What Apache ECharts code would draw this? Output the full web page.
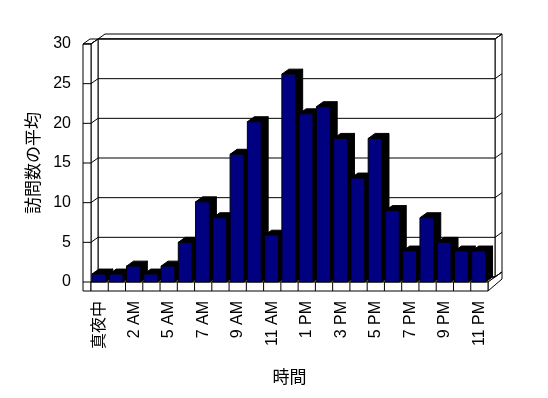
<!DOCTYPE html>
<html><head><meta charset="utf-8">
<script src="https://cdn.jsdelivr.net/npm/echarts@6/dist/echarts.min.js"></script>
<style>html,body{margin:0;padding:0;background:#fff}#c{width:548px;height:398px}</style>
</head><body><div id="c"></div>
<script>
const categories = ["真夜中","1 AM","2 AM","3 AM","5 AM","6 AM","7 AM","8 AM","9 AM","10 AM","11 AM","正午","1 PM","2 PM","3 PM","4 PM","5 PM","6 PM","7 PM","8 PM","9 PM","10 PM","11 PM"];
const visitAverages = [1, 1, 2, 1, 2, 5, 10.1, 8.1, 16.1, 20.2, 5.9, 26.2, 21.2, 22.1, 18.1, 13.1, 18.1, 9, 3.9, 8.1, 5, 3.9, 3.9];
const yTicks = [0, 5, 10, 15, 20, 25, 30];
const xTitle = "時間";
const yTitle = "訪問数の平均";

const DX = 7, DY = -5;      // depth offset of 3D effect (px)
const WALL = 8, FLOOR = 9;  // wall / floor thickness (px)
const LS = {stroke: '#000', lineWidth: 1};
const latin = 'Liberation Sans, Arial, Noto Sans CJK JP, sans-serif';
const cjk = 'Noto Sans CJK JP, sans-serif';

function poly(pts, fill) {
  return {type: 'polygon', shape: {points: pts}, style: Object.assign({fill: fill}, LS)};
}
function line(a, b) {
  return {type: 'line', shape: {x1: a[0], y1: a[1], x2: b[0], y2: b[1]}, style: LS};
}

function renderFrame(params, api) {
  const cs = params.coordSys;
  const x0 = cs.x, x1 = cs.x + cs.width, yT = cs.y, yB = cs.y + cs.height;
  const ch = [];
  // back wall slab
  ch.push(poly([[x0 + DX, yT + DY], [x0 + 2 * DX, yT + 2 * DY], [x1 + 2 * DX, yT + 2 * DY], [x1 + DX, yT + DY]], '#fff'));
  ch.push(poly([[x1 + DX, yT + DY], [x1 + 2 * DX, yT + 2 * DY], [x1 + 2 * DX, yB + 2 * DY], [x1 + DX, yB + DY]], '#fff'));
  ch.push(poly([[x0 + DX, yT + DY], [x1 + DX, yT + DY], [x1 + DX, yB + DY], [x0 + DX, yB + DY]], '#fff'));
  // left wall
  ch.push(poly([[x0 - WALL, yT], [x0, yT], [x0 + DX, yT + DY], [x0 - WALL + DX, yT + DY]], '#fff'));
  ch.push(poly([[x0, yT], [x0 + DX, yT + DY], [x0 + DX, yB + DY], [x0, yB]], '#fff'));
  ch.push(poly([[x0 - WALL, yT], [x0, yT], [x0, yB + FLOOR], [x0 - WALL, yB + FLOOR]], '#fff'));
  // floor
  ch.push(poly([[x0, yB], [x0 + DX, yB + DY], [x1 + DX, yB + DY], [x1, yB]], '#fff'));
  ch.push(poly([[x1, yB], [x1 + 2 * DX, yB + 2 * DY], [x1 + 2 * DX, yB + 2 * DY + FLOOR - 2], [x1, yB + FLOOR]], '#fff'));
  ch.push(poly([[x0, yB], [x1, yB], [x1, yB + FLOOR], [x0, yB + FLOOR]], '#fff'));
  // category ticks on floor front
  const bw = api.size([1, 0])[0];
  for (let i = 1; i < categories.length; i++) {
    const xb = api.coord([i, 0])[0] - bw / 2;
    ch.push(line([xb, yB], [xb, yB + FLOOR]));
  }
  return {type: 'group', children: ch};
}

function renderGrid(params, api) {
  const cs = params.coordSys;
  const x0 = cs.x, x1 = cs.x + cs.width;
  const y = api.coord([0, api.value(1)])[1];
  return {type: 'group', children: [
    line([x0 - WALL, y], [x0, y]),
    line([x0, y], [x0 + DX, y + DY]),
    line([x0 + DX, y + DY], [x1 + DX, y + DY]),
    line([x1 + DX, y + DY], [x1 + 2 * DX, y + 2 * DY])
  ]};
}

function renderBar(params, api) {
  const i = api.value(0), v = api.value(1);
  const top = api.coord([i, v]);
  const bot = api.coord([i, 0]);
  const bw = api.size([1, 0])[0];
  const xl = top[0] - bw / 2 + 1;
  const xr = xl + bw * 0.8;
  const yt = top[1], yb = bot[1];
  return {type: 'group', children: [
    poly([[xr, yt], [xr + DX, yt + DY], [xr + DX, yb + DY], [xr, yb]], '#000'),
    poly([[xl, yt], [xl + DX, yt + DY], [xr + DX, yt + DY], [xr, yt]], '#000'),
    {type: 'rect', shape: {x: xl, y: yt, width: xr - xl, height: yb - yt}, style: {fill: '#000080', stroke: '#000', lineWidth: 1}}
  ]};
}

const chart = echarts.init(document.getElementById('c'), null, {renderer: 'canvas'});
chart.setOption({
  backgroundColor: '#fff',
  animation: false,
  grid: {left: 91, right: 60, top: 44, bottom: 116},
  xAxis: {
    type: 'category', data: categories, boundaryGap: true,
    axisLine: {show: false}, axisTick: {show: false},
    axisLabel: {interval: 1, rotate: 90, margin: 19, fontSize: 16, color: '#000', fontFamily: latin},
    name: xTitle, nameLocation: 'middle', nameGap: 86,
    nameTextStyle: {fontSize: 17, color: '#000', fontFamily: cjk}
  },
  yAxis: {
    type: 'value', min: 0, max: 30, interval: 5,
    axisLine: {show: false}, axisTick: {show: false}, splitLine: {show: false},
    axisLabel: {margin: 20, fontSize: 16, color: '#000', fontFamily: latin},
    name: yTitle, nameLocation: 'middle', nameGap: 50, nameRotate: 90,
    nameTextStyle: {fontSize: 17, color: '#000', fontFamily: cjk}
  },
  series: [
    {type: 'custom', z: 1, clip: false, silent: true, data: [[0, 0]], renderItem: renderFrame},
    {type: 'custom', z: 2, clip: false, silent: true, data: yTicks.map(v => [0, v]), renderItem: renderGrid},
    {type: 'custom', z: 3, clip: false, data: visitAverages.map((v, i) => [i, v]), renderItem: renderBar}
  ]
});
</script></body></html>
